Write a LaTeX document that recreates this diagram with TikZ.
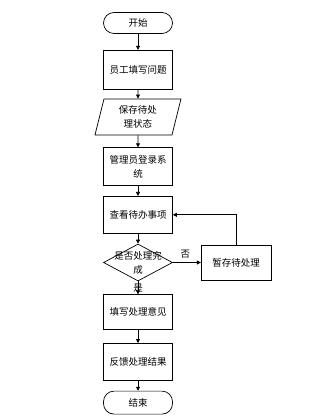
\documentclass[tikz,border=0pt]{standalone}
\usepackage{fontspec}
\usepackage{tikz}
\usetikzlibrary{arrows.meta,positioning,shapes.geometric}
\newfontfamily\cjk{Noto Sans CJK SC}
\definecolor{inkdark}{RGB}{0,0,0}

\begin{document}
\begin{tikzpicture}[x=1pt,y=1pt,
      font=\cjk\fontsize{9.5}{14}\selectfont,
      term/.style={rectangle,rounded corners=10.5pt,draw=inkdark,line width=0.7pt,fill=white,
                   minimum width=69pt,minimum height=21pt,inner sep=0pt},
      box/.style={rectangle,draw=inkdark,line width=0.7pt,fill=white,align=center,
                  minimum width=69pt,minimum height=38pt,inner sep=1pt},
      io/.style={trapezium,trapezium left angle=70,trapezium right angle=110,trapezium stretches body,
                 draw=inkdark,line width=0.7pt,align=center,minimum width=86pt,minimum height=36pt,inner sep=1pt},
      gate/.style={diamond,draw=inkdark,line width=0.7pt,minimum width=69pt,minimum height=37pt,inner sep=0pt},
      a/.style={-{Triangle[length=4pt,width=4pt]},draw=inkdark,line width=0.7pt}]
    \useasboundingbox (0,0) rectangle (320,-419);
    \node[term] (start) at (138,-23) {开始};
    \node[box,below=16pt of start,minimum height=39pt] (fill) {员工填写问题};
    \node[io,below=9pt of fill] (save) {保存待处\\理状态};
    \node[box,below=12pt of save] (login) {管理员登录系\\统};
    \node[box,below=10pt of login,minimum height=37pt] (todo) {查看待办事项};
    % decision and the side branch
    \node[gate,below=10pt of todo] (done) {};
    \node[align=center] (donet) at (done) {是否处理完\\成};
    \node[box,right=28pt of done,minimum width=70pt,minimum height=35pt] (hold) {暂存待处理};
    \node[box,below=13pt of done,minimum height=35pt] (opin) {填写处理意见};
    \node[box,below=13pt of opin,minimum height=37pt] (back) {反馈处理结果};
    \node[term,below=10pt of back,minimum height=23pt] (stop) {结束};
    \draw[a] (start)--(fill); \draw[a] (fill)--(save); \draw[a] (save)--(login);
    \draw[a] (login)--(todo); \draw[a] (todo)--(done);
    \draw[a] (done.east)--(hold.west) node[pos=0.45,above=1pt] {否};
    \draw[a] (hold.north) |- (todo.east);
    \draw[a] (done.south)--(opin.north) node[midway,inner sep=0pt] (yes) {是};
    \draw[a] (opin)--(back); \draw[a] (back)--(stop);
  \end{tikzpicture}
\end{document}
